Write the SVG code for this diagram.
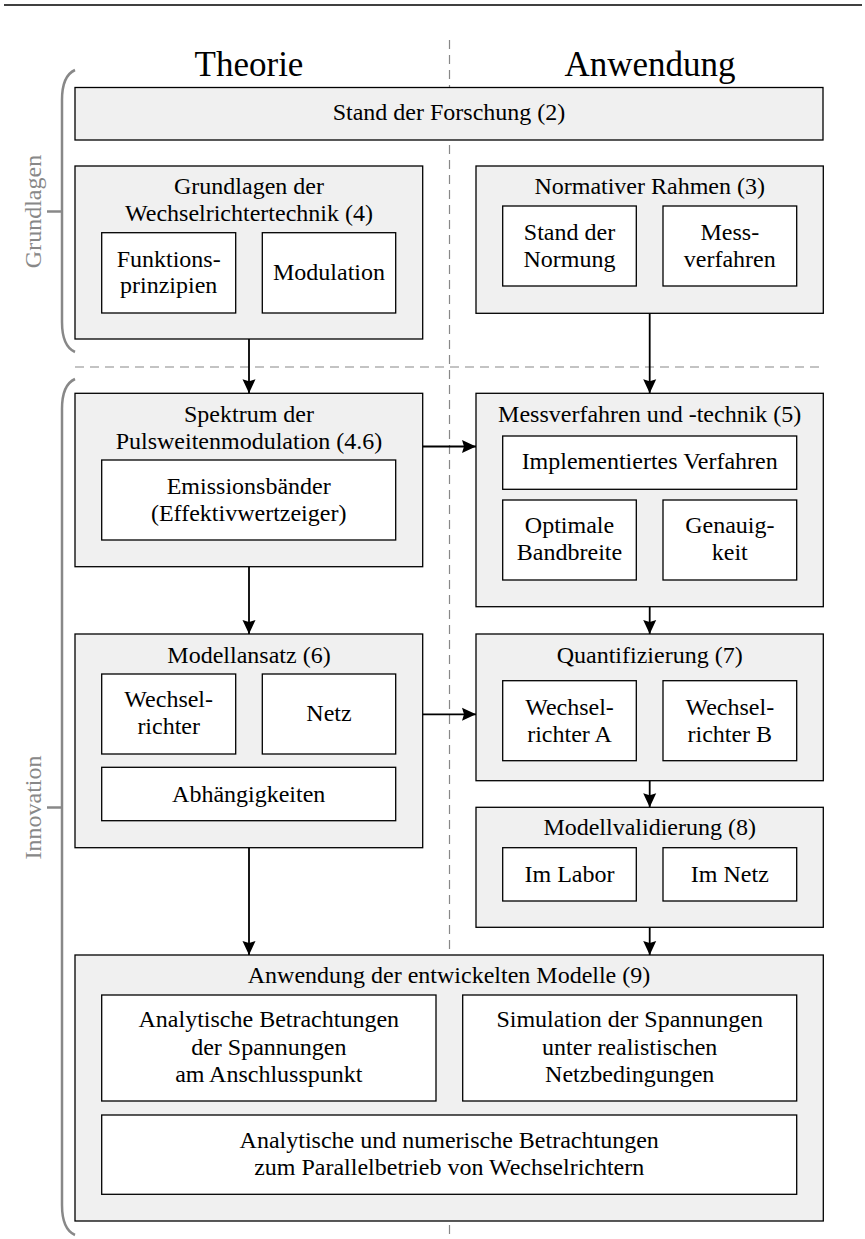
<svg xmlns="http://www.w3.org/2000/svg" width="865" height="1239" viewBox="0 0 865 1239">
<defs>
<style>
text{font-family:"Liberation Serif","Times New Roman",serif;font-size:24px;fill:#000;text-anchor:middle}
.hd{font-size:35px}
.side{fill:#888}
.outer{fill:#f0f0f0;stroke:#000;stroke-width:1.3}
.inner{fill:#fff;stroke:#000;stroke-width:1.3}
.dash{stroke:#888;stroke-width:1.2;stroke-dasharray:9 6;fill:none}
.br{stroke:#888;stroke-width:2.5;fill:none}
.con{stroke:#000;stroke-width:1.8;fill:none;marker-end:url(#ah)}
</style>
<marker id="ah" viewBox="0 0 16 14" markerWidth="16" markerHeight="14" refX="14" refY="7" orient="auto" markerUnits="userSpaceOnUse">
<path d="M0,0.5 L14,7 L0,13.5 L2,7 Z" fill="#000"/>
</marker>
</defs>
<g id="frame">
<line x1="4" y1="5" x2="862" y2="5" stroke="#000" stroke-width="1.5"/>
<line class="dash" x1="449.5" y1="40" x2="449.5" y2="1239"/>
<line class="dash" x1="75" y1="367" x2="823" y2="367"/>
<text class="hd" x="249" y="76">Theorie</text>
<text class="hd" x="650" y="76">Anwendung</text>
</g>
<g id="brace-grundlagen">
<path class="br" d="M75,70 C66,74 62,86 62,100 L62,322 C62,336 66,348 75,352"/>
<line class="br" x1="47" y1="211.5" x2="62" y2="211.5"/>
<text class="side" transform="translate(41,211.5) rotate(-90)" x="0" y="0">Grundlagen</text>
</g>
<g id="brace-innovation">
<path class="br" d="M75,379 C66,383 62,395 62,409 L62,1205 C62,1219 66,1231 75,1235"/>
<line class="br" x1="47" y1="807.5" x2="62" y2="807.5"/>
<text class="side" transform="translate(41,807.5) rotate(-90)" x="0" y="0">Innovation</text>
</g>
<g id="connectors">
<line class="con" x1="249" y1="339" x2="249" y2="393.3"/>
<line class="con" x1="649.7" y1="313.3" x2="649.7" y2="393.3"/>
<line class="con" x1="422.7" y1="446.5" x2="476" y2="446.5"/>
<line class="con" x1="249" y1="566.7" x2="249" y2="634"/>
<line class="con" x1="649.7" y1="606.7" x2="649.7" y2="634"/>
<line class="con" x1="422.7" y1="714.3" x2="476" y2="714.3"/>
<line class="con" x1="649.7" y1="780.7" x2="649.7" y2="807.3"/>
<line class="con" x1="249" y1="847.7" x2="249" y2="955"/>
<line class="con" x1="649.7" y1="927.3" x2="649.7" y2="955"/>
</g>
<g id="stand-forschung">
<rect class="outer" x="75" y="87.5" width="748" height="52.5"/>
<text x="449" y="120">Stand der Forschung (2)</text>
</g>
<g id="grundlagen">
<rect class="outer" x="75" y="166" width="347.7" height="173"/>
<text x="249" y="194">Grundlagen der</text>
<text x="249" y="221">Wechselrichtertechnik (4)</text>
<rect class="inner" x="101.7" y="232.7" width="134" height="80.3"/>
<text x="168.7" y="267.3">Funktions-</text>
<text x="168.7" y="293.3">prinzipien</text>
<rect class="inner" x="262.3" y="232.7" width="133.4" height="80.3"/>
<text x="329" y="280">Modulation</text>
</g>
<g id="normativ">
<rect class="outer" x="476" y="166" width="347.3" height="147.3"/>
<text x="649.7" y="194.3">Normativer Rahmen (3)</text>
<rect class="inner" x="502.7" y="206" width="133.6" height="80"/>
<text x="569.5" y="240">Stand der</text>
<text x="569.5" y="267">Normung</text>
<rect class="inner" x="663" y="206" width="133.7" height="80"/>
<text x="729.8" y="240">Mess-</text>
<text x="729.8" y="267">verfahren</text>
</g>
<g id="spektrum">
<rect class="outer" x="75" y="393.3" width="347.7" height="173.4"/>
<text x="249" y="422.3">Spektrum der</text>
<text x="249" y="449">Pulsweitenmodulation (4.6)</text>
<rect class="inner" x="101.7" y="460" width="294" height="80"/>
<text x="248.7" y="494">Emissionsbänder</text>
<text x="248.7" y="520.7">(Effektivwertzeiger)</text>
</g>
<g id="messverfahren">
<rect class="outer" x="476" y="393.3" width="347.3" height="213.4"/>
<text x="649.7" y="421.7">Messverfahren und -technik (5)</text>
<rect class="inner" x="502.7" y="436" width="294" height="53.3"/>
<text x="649.7" y="469.3">Implementiertes Verfahren</text>
<rect class="inner" x="502.7" y="500" width="133.6" height="80"/>
<text x="569.5" y="532.7">Optimale</text>
<text x="569.5" y="560">Bandbreite</text>
<rect class="inner" x="663" y="500" width="133.7" height="80"/>
<text x="729.8" y="532.7">Genauig-</text>
<text x="729.8" y="560">keit</text>
</g>
<g id="modellansatz">
<rect class="outer" x="75" y="634" width="347.7" height="213.7"/>
<text x="249" y="662.7">Modellansatz (6)</text>
<rect class="inner" x="101.7" y="674" width="134" height="80"/>
<text x="168.7" y="707.3">Wechsel-</text>
<text x="168.7" y="734.3">richter</text>
<rect class="inner" x="262.3" y="674" width="133.4" height="80"/>
<text x="329" y="721">Netz</text>
<rect class="inner" x="101.7" y="767.3" width="294" height="53.4"/>
<text x="248.7" y="801.7">Abhängigkeiten</text>
</g>
<g id="quantifizierung">
<rect class="outer" x="476" y="634" width="347.3" height="146.7"/>
<text x="649.7" y="662.7">Quantifizierung (7)</text>
<rect class="inner" x="502.7" y="680.7" width="133.6" height="80"/>
<text x="569.5" y="715">Wechsel-</text>
<text x="569.5" y="741.7">richter A</text>
<rect class="inner" x="663" y="680.7" width="133.7" height="80"/>
<text x="729.8" y="715">Wechsel-</text>
<text x="729.8" y="741.7">richter B</text>
</g>
<g id="modellvalidierung">
<rect class="outer" x="476" y="807.3" width="347.3" height="120"/>
<text x="649.7" y="835">Modellvalidierung (8)</text>
<rect class="inner" x="502.7" y="847.7" width="133.6" height="53.3"/>
<text x="569.5" y="881.7">Im Labor</text>
<rect class="inner" x="663" y="847.7" width="133.7" height="53.3"/>
<text x="729.8" y="881.7">Im Netz</text>
</g>
<g id="anwendung-modelle">
<rect class="outer" x="75" y="955" width="748.3" height="266"/>
<text x="449" y="983.3">Anwendung der entwickelten Modelle (9)</text>
<rect class="inner" x="101.7" y="995" width="334.3" height="106"/>
<text x="268.8" y="1027.3">Analytische Betrachtungen</text>
<text x="268.8" y="1054.5">der Spannungen</text>
<text x="268.8" y="1081.7">am Anschlusspunkt</text>
<rect class="inner" x="462.7" y="995" width="334" height="106"/>
<text x="629.7" y="1027.3">Simulation der Spannungen</text>
<text x="629.7" y="1054.5">unter realistischen</text>
<text x="629.7" y="1081.7">Netzbedingungen</text>
<rect class="inner" x="101.7" y="1115" width="695" height="79.3"/>
<text x="449.2" y="1148.3">Analytische und numerische Betrachtungen</text>
<text x="449.2" y="1175">zum Parallelbetrieb von Wechselrichtern</text>
</g>
</svg>
